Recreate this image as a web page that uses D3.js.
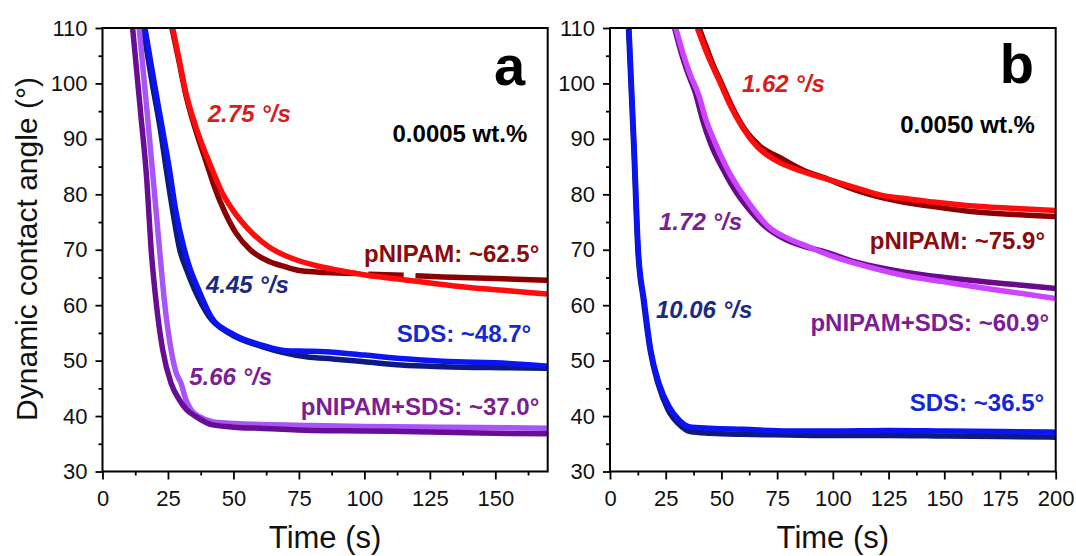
<!DOCTYPE html>
<html>
<head>
<meta charset="utf-8">
<script src="https://cdn.jsdelivr.net/npm/d3@7"></script>
<style>
  body { margin: 0; background: #fff; }
  svg text { font-family: Arial, "Liberation Sans", sans-serif; }
</style>
</head>
<body>
<svg id="chart" width="1076" height="556"></svg>
<script>
// ---- data: [time (s), contact angle (deg)] ----
// panel a, 0.0005 wt.%
const aPnipamDark = [[26.5,110],[29.2,104],[31.8,98],[35.3,92],[39.5,86],[43,81],[47,76.5],[51,73],[56.4,70],[63,68],[70,66.9],[76,66.2],[85,65.9],[97,65.7],[99,null],[101.5,65.6],[115,65.4],[117.5,null],[119.5,65.3],[130,65.1],[150,64.8],[170,64.5]];
const aPnipamBright = [[26.8,110],[29.3,104.2],[31.9,98.2],[35.7,92.1],[41.5,84.9],[45.9,80.1],[49.7,77.2],[57.4,72.9],[63.6,70.5],[72,68.5],[81,67.2],[90,66.3],[101,65.4],[115,64.6],[126,63.95],[140,63.2],[155,62.6],[170,62.0]];
const aSdsDark = [[15.5,110],[19,100],[22,92],[24.5,84],[27,76.5],[29.5,70],[32,66.5],[35,63],[40.8,57.9],[48.5,54.9],[61.2,52.5],[77.8,50.7],[88,50.3],[100,49.8],[114,49.2],[130,48.9],[155,48.7],[170,48.6]];
const aSdsBright = [[16.2,110],[19.8,100],[22.8,92],[25.4,85],[28,77],[31,70.5],[33.5,66.5],[36.5,63],[41.5,57.9],[49,55],[61.5,52.7],[70,51.8],[78,51.7],[85,51.6],[100,51],[114,50.4],[130,49.9],[155,49.5],[170,49.0]];
const aMixLight = [[14,110],[17,95],[19.5,82],[21.7,70.5],[23.6,60.9],[26.2,51.9],[28,48],[30,45.9],[31.9,42.9],[34,41],[37,39.9],[42,39],[48.4,38.7],[60,38.5],[78,38.3],[100,38.1],[130,38],[170,37.8]];
const aMixDark = [[11.5,110],[14.5,95],[17,82],[18.5,70.5],[20.4,60.9],[23,51.9],[26.2,45.9],[29.4,42.9],[32,41.2],[35.7,39.9],[42.1,38.4],[50,38.0],[60,37.8],[80,37.4],[100,37.3],[130,37.1],[150,36.9],[170,36.8]];

// panel b, 0.0050 wt.%
const bPnipamDark = [[40,110],[43,106.8],[46,103.6],[49.5,100.5],[55,95.6],[60,92],[67,88.8],[77.3,86.4],[87,84.3],[96,83],[110,80.8],[122,79.4],[131.5,78.6],[145,77.8],[160,77.0],[180,76.4],[200,76.0]];
const bPnipamBright = [[39.2,110],[42,107],[45,104],[48.9,100.6],[54,96],[59.4,92.1],[66,88.6],[74.4,86.1],[85,84.3],[95.3,83],[110,81.2],[122,79.8],[131.5,79.3],[145,78.6],[160,78.0],[180,77.5],[200,77.1]];
const bMixDark = [[29,110],[32,105.5],[35,101.8],[38.4,98.2],[41.5,93.5],[45.2,89.1],[51,84.3],[57.1,80.1],[63,77],[69.9,74.1],[78,72],[87.8,70.5],[95,69.8],[110,67.8],[131.5,66],[150,65],[169,64.2],[185,63.6],[200,63.0]];
const bMixLight = [[29.5,110],[32.7,105.5],[35.8,101.8],[39.9,97.8],[43,93.5],[47.4,89.1],[53,84.3],[59.4,80.1],[65,77],[71.3,74.1],[80,72],[89.3,70.5],[100,68.8],[115,67],[131.5,65.4],[150,64.2],[169,63],[185,62.1],[200,61.2]];
const bSdsDark = [[8.3,110],[10.6,89],[12.5,70],[15,60.9],[18,51.9],[21.5,45.9],[26,41.2],[31,38.5],[36,37.2],[45,36.9],[60,36.7],[80,36.6],[100,36.5],[125,36.5],[150,36.4],[175,36.3],[200,36.2]];
const bSdsBright = [[8.5,110],[10.8,89],[12.7,70],[15.3,60.9],[18.3,51.9],[22,45.9],[26.5,41.7],[31,39.3],[35.4,38.1],[45,37.8],[60,37.6],[80,37.3],[100,37.3],[125,37.4],[150,37.3],[175,37.2],[200,37.1]];

// axes
const yDomain = [30, 110];
const yTicks = [30, 40, 50, 60, 70, 80, 90, 100, 110];
const xTicksA = [0, 25, 50, 75, 100, 125, 150];
const xTicksB = [0, 25, 50, 75, 100, 125, 150, 175, 200];

// annotations: [text, t, angle, anchor, colour, kind]
const notesA = [
  ["a", 161.4, 99.7, "end", "#000", "panel"],
  ["2.75 °/s", 40.2, 93.0, "start", "#d91c1c", "rate"],
  ["0.0005 wt.%", 162.2, 89.5, "end", "#000", "conc"],
  ["pNIPAM: ~62.5°", 166.8, 67.8, "end", "#8b0a0a", "final"],
  ["4.45 °/s", 39.5, 62.2, "start", "#1a2a82", "rate"],
  ["SDS: ~48.7°", 163.7, 53.4, "end", "#1428d6", "final"],
  ["5.66 °/s", 33.1, 45.6, "start", "#7b1e95", "rate"],
  ["pNIPAM+SDS: ~37.0°", 166.8, 40.2, "end", "#7b1e95", "final"]
];
const notesB = [
  ["b", 190.3, 100.1, "end", "#000", "panel"],
  ["1.62 °/s", 59.2, 98.5, "start", "#d91c1c", "rate"],
  ["0.0050 wt.%", 190.7, 91.1, "end", "#000", "conc"],
  ["pNIPAM: ~75.9°", 195.2, 70.1, "end", "#8b0a0a", "final"],
  ["1.72 °/s", 22.0, 73.6, "start", "#7b1e95", "rate"],
  ["10.06 °/s", 20.6, 57.7, "start", "#1a2a82", "rate"],
  ["pNIPAM+SDS: ~60.9°", 197, 55.3, "end", "#7b1e95", "final"],
  ["SDS: ~36.5°", 194.8, 40.9, "end", "#1428d6", "final"]
];

const panels = [
  { id: "a", left: 102.5, right: 547.7, xmax: 170, ticks: xTicksA, notes: notesA,
    series: [
      [aSdsDark, "#0d1a80"], [aSdsBright, "#0a14f5"],
      [aPnipamDark, "#8b0000"], [aPnipamBright, "#ff0d0d"],
      [aMixLight, "#a855f7"], [aMixDark, "#6a0d96"]
    ] },
  { id: "b", left: 610, right: 1055.7, xmax: 200, ticks: xTicksB, notes: notesB,
    series: [
      [bPnipamDark, "#8b0000"], [bPnipamBright, "#ff0d0d"],
      [bMixDark, "#6a0a8a"], [bMixLight, "#cc44ff"],
      [bSdsDark, "#0d1a80"], [bSdsBright, "#0a14f5"]
    ] }
];

const plotTop = 28, plotBottom = 471.5;
const svg = d3.select("#chart");

panels.forEach(p => {
  const x = d3.scaleLinear().domain([0, p.xmax]).range([p.left, p.right]);
  const y = d3.scaleLinear().domain(yDomain).range([plotBottom, plotTop]);

  svg.append("clipPath").attr("id", "clip" + p.id)
    .append("rect")
    .attr("x", p.left).attr("y", plotTop)
    .attr("width", p.right - p.left).attr("height", plotBottom - plotTop);

  const line = d3.line()
    .defined(d => d[1] != null)
    .x(d => x(d[0]))
    .y(d => y(d[1]))
    .curve(d3.curveMonotoneX);

  const g = svg.append("g").attr("clip-path", `url(#clip${p.id})`);
  p.series.forEach(s => {
    g.append("path")
      .datum(s[0])
      .attr("fill", "none")
      .attr("stroke", s[1])
      .attr("stroke-width", 5.5)
      .attr("stroke-linejoin", "round")
      .attr("d", line);
  });

  // minor ticks
  const xMinor = d3.range(12.5, p.xmax, 25);
  svg.append("g")
    .attr("transform", `translate(0,${plotBottom})`)
    .call(d3.axisBottom(x).tickValues(xMinor).tickSize(4).tickFormat(""))
    .call(g => g.select(".domain").remove());
  svg.append("g")
    .attr("transform", `translate(${p.left},0)`)
    .call(d3.axisLeft(y).tickValues(d3.range(35, 110, 10)).tickSize(4).tickFormat(""))
    .call(g => g.select(".domain").remove());

  // major ticks
  svg.append("g")
    .attr("transform", `translate(0,${plotBottom})`)
    .call(d3.axisBottom(x).tickValues(p.ticks).tickSize(8).tickPadding(11))
    .call(g => g.select(".domain").remove());
  svg.append("g")
    .attr("transform", `translate(${p.left},0)`)
    .call(d3.axisLeft(y).tickValues(yTicks).tickSize(7).tickPadding(8))
    .call(g => g.select(".domain").remove());

  svg.selectAll(".tick line").attr("stroke", "#000").attr("stroke-width", 1.8);
  svg.selectAll(".tick text")
    .attr("font-size", 22)
    .attr("font-family", 'Arial, "Liberation Sans", sans-serif')
    .attr("fill", "#111");

  // frame
  svg.append("rect")
    .attr("x", p.left).attr("y", plotTop)
    .attr("width", p.right - p.left).attr("height", plotBottom - plotTop)
    .attr("fill", "none").attr("stroke", "#000").attr("stroke-width", 2);

  // x title
  svg.append("text")
    .attr("x", (p.left + p.right) / 2).attr("y", 548)
    .attr("text-anchor", "middle")
    .attr("font-size", 31)
    .attr("fill", "#111")
    .text("Time (s)");

  p.notes.forEach(n => {
    const t = svg.append("text")
      .attr("x", x(n[1])).attr("y", y(n[2]))
      .attr("text-anchor", n[3])
      .attr("fill", n[4])
      .attr("font-weight", "bold")
      .text(n[0]);
    if (n[5] === "panel") t.attr("font-size", 56);
    else t.attr("font-size", 24);
    if (n[5] === "rate") t.attr("font-style", "italic");
  });
});

svg.append("text")
  .attr("transform", "translate(37,249) rotate(-90)")
  .attr("text-anchor", "middle")
  .attr("font-size", 30)
  .attr("fill", "#111")
  .text("Dynamic contact angle (°)");
</script>
</body>
</html>
